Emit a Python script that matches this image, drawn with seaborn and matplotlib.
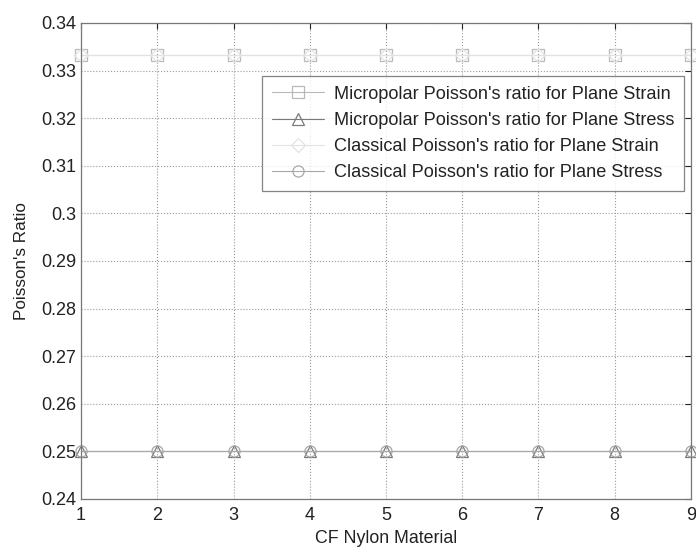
import numpy as np
import pandas as pd
import seaborn as sns
import matplotlib.pyplot as plt

# data
materials = [1, 2, 3, 4, 5, 6, 7, 8, 9]
micro_strain = [0.3333, 0.3333, 0.3333, 0.3333, 0.3333, 0.3333, 0.3333, 0.3333, 0.3333]
micro_stress = [0.25, 0.25, 0.25, 0.25, 0.25, 0.25, 0.25, 0.25, 0.25]
classic_strain = [0.3333, 0.3333, 0.3333, 0.3333, 0.3333, 0.3333, 0.3333, 0.3333, 0.3333]
classic_stress = [0.25, 0.25, 0.25, 0.25, 0.25, 0.25, 0.25, 0.25, 0.25]
y_ticks = [0.24, 0.25, 0.26, 0.27, 0.28, 0.29, 0.30, 0.31, 0.32, 0.33, 0.34]

labels = ["Micropolar Poisson's ratio for Plane Strain",
          "Micropolar Poisson's ratio for Plane Stress",
          "Classical Poisson's ratio for Plane Strain",
          "Classical Poisson's ratio for Plane Stress"]
series = [micro_strain, micro_stress, classic_strain, classic_stress]
markers = ['s', '^', 'D', 'o']
colors = ['#b8b8b8', '#7a7a7a', '#e2e2e2', '#a8a8a8']
msizes = [8, 8.5, 7, 8]

sns.set_style('white')
plt.rcParams['font.family'] = ['Liberation Sans', 'DejaVu Sans']

fig = plt.figure(figsize=(6.96, 5.47), dpi=100)
ax = fig.add_axes([0.1164, 0.0878, 0.8764, 0.8702])

for lab, vals, m, c, ms in zip(labels, series, markers, colors, msizes):
    df = pd.DataFrame({'x': materials, 'y': vals})
    sns.lineplot(data=df, x='x', y='y', ax=ax, label=lab, color=c, lw=0.8,
                 marker=m, markersize=ms, markerfacecolor='none',
                 markeredgecolor=c, markeredgewidth=0.9, clip_on=False)

ax.set_xlim(1, 9)
ax.set_ylim(0.24, 0.34)
ax.set_xticks(materials)
ax.set_yticks(y_ticks)
ax.set_yticklabels(['%g' % round(v, 2) for v in y_ticks])
ax.grid(True, linestyle=':', color='#9a9a9a', lw=0.8)
ax.tick_params(direction='in', length=4, labelsize=13, colors='#222222',
               top=True, right=True, width=0.8)
ax.tick_params(axis='x', pad=6)
for s in ax.spines.values():
    s.set_color('#777777')
    s.set_linewidth(0.9)

ax.set_xlabel('CF Nylon Material', fontsize=12.8, color='#222222', labelpad=4)
ax.set_ylabel("Poisson's Ratio", fontsize=12.3, color='#222222', labelpad=9)

leg = ax.legend(loc='upper right', bbox_to_anchor=(0.9885, 0.889), fontsize=13.1,
                frameon=True, fancybox=False, edgecolor='#666666',
                borderaxespad=0, handlelength=2.9, borderpad=0.55,
                labelspacing=0.5, handletextpad=0.5)
leg.get_frame().set_linewidth(0.9)
for t in leg.get_texts():
    t.set_color('#222222')

fig.savefig('out.png', dpi=100)
